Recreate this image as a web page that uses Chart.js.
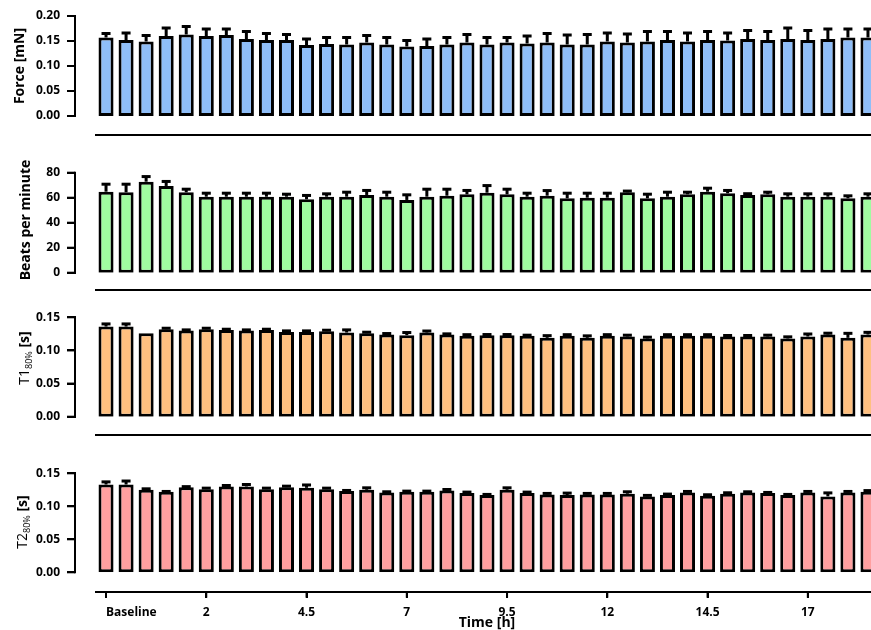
<!DOCTYPE html>
<html><head><meta charset="utf-8">
<script src="https://cdn.jsdelivr.net/npm/chart.js@4.4.1/dist/chart.umd.min.js"></script>
<style>
html,body{margin:0;padding:0;background:#fff;overflow:hidden;width:871px;height:630px;}
#wrap{position:relative;width:871px;height:630px;overflow:hidden;}
canvas{position:absolute;left:0;top:-24px;}
.yt{position:absolute;transform:translate(-50%,-50%) rotate(-90deg);white-space:nowrap;font-family:'Open Sans',sans-serif;font-size:14px;font-weight:700;color:#000;line-height:1;}
.yt .n{font-weight:400;}
.yt sub{font-size:9px;font-weight:400;vertical-align:baseline;position:relative;top:3px;}
#xt{position:absolute;transform:translate(-50%,-50%);font-family:'Open Sans',sans-serif;font-size:14px;font-weight:700;color:#000;white-space:nowrap;line-height:1;}
.ax{position:absolute;background:#000;}
</style></head><body>
<div id="wrap">
<canvas id="c0" width="882" height="654"></canvas>
<canvas id="c1" width="882" height="654"></canvas>
<canvas id="c2" width="882" height="654"></canvas>
<canvas id="c3" width="882" height="654"></canvas>
<div class="yt" style="left:19px;top:66px">Force [mN]</div>
<div class="yt" style="left:25px;top:220px">Beats per minute</div>
<div class="yt" style="left:24px;top:358px"><span class="n">T1<sub>80%</sub></span> [s]</div>
<div class="yt" style="left:22px;top:522px"><span class="n">T2<sub>80%</sub></span> [s]</div>
<div id="xt" style="left:487px;top:622px">Time [h]</div>
</div>
<script>
const categories = ['Baseline','0','0.5','1','1.5','2','2.5','3','3.5','4','4.5','5','5.5','6','6.5','7','7.5','8','8.5','9','9.5','10','10.5','11','11.5','12','12.5','13','13.5','14','14.5','15','15.5','16','16.5','17','17.5','18','18.5'];
const xTickLabels = ['Baseline','2','4.5','7','9.5','12','14.5','17'];

const forceMean = [0.157,0.152,0.149,0.160,0.163,0.160,0.162,0.154,0.152,0.152,0.142,0.144,0.143,0.147,0.143,0.139,0.140,0.143,0.147,0.143,0.147,0.145,0.147,0.143,0.143,0.149,0.147,0.149,0.152,0.149,0.152,0.151,0.154,0.152,0.154,0.152,0.154,0.157,0.157];
const forceErr = [0.008,0.014,0.012,0.016,0.016,0.014,0.012,0.015,0.013,0.011,0.012,0.013,0.014,0.014,0.014,0.012,0.014,0.014,0.016,0.014,0.010,0.015,0.018,0.019,0.020,0.017,0.017,0.020,0.017,0.017,0.017,0.015,0.017,0.017,0.022,0.019,0.020,0.017,0.017];

const bpmMean = [64.8,64.3,72.8,69.4,64.3,60.8,60.8,60.8,60.8,60.8,58.7,60.8,60.8,62.2,60.8,58.2,60.8,61.6,62.7,64.0,62.7,60.8,61.6,59.5,60.0,60.0,64.3,59.5,60.8,62.7,64.8,63.5,62.2,62.7,60.8,60.8,60.8,59.5,60.8];
const bpmErr = [6.0,6.5,4.1,3.6,2.5,2.8,2.8,2.8,2.8,2.0,3.1,2.3,3.6,3.6,3.6,4.1,6.0,5.2,3.1,5.7,4.1,2.8,4.1,4.1,3.6,3.6,1.0,3.3,3.6,1.7,2.8,2.3,1.0,1.7,2.3,2.3,2.3,2.0,2.3];

const t1Mean = [0.136,0.136,0.126,0.132,0.130,0.132,0.131,0.130,0.131,0.128,0.128,0.129,0.127,0.126,0.124,0.123,0.127,0.124,0.122,0.123,0.123,0.122,0.119,0.122,0.119,0.122,0.121,0.118,0.122,0.122,0.122,0.121,0.121,0.121,0.118,0.121,0.124,0.119,0.124];
const t1Err = [0.004,0.004,0,0.0015,0.001,0.0015,0.001,0.001,0.001,0.0015,0.0015,0.0015,0.004,0.0015,0.0015,0.004,0.0023,0.001,0.0018,0.001,0.001,0.001,0.0033,0.0018,0.003,0.0018,0.002,0.002,0.0018,0.0018,0.0018,0.0015,0.0015,0.002,0.0025,0.0038,0.002,0.0068,0.0033];

const t2Mean = [0.133,0.133,0.125,0.122,0.129,0.126,0.130,0.130,0.126,0.129,0.128,0.126,0.123,0.125,0.121,0.122,0.122,0.124,0.120,0.117,0.125,0.120,0.118,0.117,0.118,0.118,0.119,0.115,0.117,0.121,0.116,0.119,0.121,0.120,0.117,0.121,0.115,0.121,0.122];
const t2Err = [0.004,0.0053,0.0015,0.0005,0.0008,0.0015,0.0015,0.003,0.0015,0.0015,0.0043,0.0015,0.001,0.003,0.001,0.001,0.001,0.0015,0.0015,0.001,0.003,0.0015,0.0015,0.003,0.0015,0.0015,0.003,0.0015,0.0015,0.0015,0.0015,0.0015,0.001,0.001,0.001,0.0015,0.0053,0.0015,0.0018];

const forceTicks = ['0.00','0.05','0.10','0.15','0.20'];
const bpmTicks = ['0','20','40','60','80'];
const tTicks = ['0.00','0.05','0.10','0.15'];

const FONT = {family:"'Open Sans', sans-serif", size:12, weight:'bold'};
const SHIFT = 24; // canvases sit 24px above the page top

// y axis line + tick marks and x tick marks, positioned from the chart's own scales
function axisGeometry(chart, xTicks, xAt){
  const ys = chart.scales.y, xs = chart.scales.x;
  const ax = ys.right - 1;
  const segs = [];
  segs.push({x1:ax, y1:ys.getPixelForValue(ys.max) - 1, x2:ax, y2:ys.getPixelForValue(ys.min) + 1});
  ys.ticks.forEach(t => { const py = ys.getPixelForValue(t.value); segs.push({x1:ax - 8, y1:py, x2:ax, y2:py}); });
  if (xTicks) {
    const base = ys.getPixelForValue(xAt);
    categories.forEach((c, i) => {
      if (!xTickLabels.includes(c)) return;
      const px = xs.getPixelForValue(i);
      segs.push({x1:px, y1:base, x2:px, y2:base + 6});
    });
  }
  return segs;
}

const errorBars = {
  id:'errorBars',
  afterDatasetsDraw(chart, args, opts){
    const ctx = chart.ctx, ds = chart.data.datasets[0], meta = chart.getDatasetMeta(0), ys = chart.scales.y;
    ctx.save();
    ctx.strokeStyle = '#000'; ctx.lineWidth = 3; ctx.lineCap = 'butt';
    meta.data.forEach((bar, i) => {
      const e = ds.errors[i];
      if (!(e > 0)) return;
      const v = ds.data[i];
      const y0 = ys.getPixelForValue(v), y1 = ys.getPixelForValue(v + e);
      ctx.beginPath(); ctx.moveTo(bar.x, y0); ctx.lineTo(bar.x, y1); ctx.stroke();
      ctx.beginPath(); ctx.moveTo(bar.x - 4.5, y1); ctx.lineTo(bar.x + 4.5, y1); ctx.stroke();
    });
    ctx.restore();
    // axis marks on the canvas
    ctx.save();
    ctx.strokeStyle = '#000'; ctx.lineWidth = 2;
    axisGeometry(chart, opts.xTicks, opts.xAt).forEach(s => {
      ctx.beginPath(); ctx.moveTo(s.x1, s.y1); ctx.lineTo(s.x2, s.y2); ctx.stroke();
    });
    ctx.restore();
  }
};

const wrap = document.getElementById('wrap');
function addAxisDivs(chart, xTicks, xAt){
  axisGeometry(chart, xTicks, xAt).forEach(s => {
    const d = document.createElement('div');
    d.className = 'ax';
    if (s.x1 === s.x2) {
      d.style.left = (s.x1 - 1) + 'px'; d.style.width = '2px';
      d.style.top = (Math.min(s.y1, s.y2) - SHIFT) + 'px'; d.style.height = Math.abs(s.y2 - s.y1) + 'px';
    } else {
      d.style.left = Math.min(s.x1, s.x2) + 'px'; d.style.width = Math.abs(s.x2 - s.x1) + 'px';
      d.style.top = (s.y1 - 1 - SHIFT) + 'px'; d.style.height = '2px';
    }
    wrap.appendChild(d);
  });
}

function panel(id, cfg){
  const chart = new Chart(document.getElementById(id), {
    type:'bar',
    data:{labels:categories, datasets:[{data:cfg.mean, errors:cfg.err, backgroundColor:cfg.color, borderColor:'#000', borderWidth:3, borderSkipped:false, barPercentage:0.75, categoryPercentage:1, yAxisID:'y'}]},
    options:{
      responsive:false, animation:false, events:[],
      layout:{padding:{left:0, right:4, top:cfg.top + SHIFT, bottom:630 - cfg.bottom}},
      plugins:{legend:{display:false}, tooltip:{enabled:false}, errorBars:{xTicks:cfg.showX, xAt:cfg.xAt}},
      scales:{
        x:{type:'category', offset:true, position:{y:cfg.xAt},
           border:{display:true, color:'#000', width:2},
           grid:{display:false},
           ticks:{display:cfg.showX, autoSkip:false, maxRotation:0, align:'inner', padding:6, color:'#000', font:FONT,
                  callback:(v,i) => xTickLabels.includes(categories[i]) ? categories[i] : ''}},
        y:{type:'linear', position:'left', weight:1, min:0, max:cfg.max,
           ticks:{stepSize:cfg.step, autoSkip:false, padding:8, color:'#000', font:FONT, callback:(v,i) => cfg.tickLabels[i]},
           grid:{display:false}, border:{display:false},
           afterFit(s){ s.width = 76; }},
        gap:{type:'linear', axis:'y', position:'left', weight:0,
             ticks:{display:false}, grid:{display:false}, border:{display:false},
             afterFit(s){ s.width = 20; }}
      }
    },
    plugins:[errorBars]
  });
  addAxisDivs(chart, cfg.showX, cfg.xAt);
  return chart;
}

panel('c0', {mean:forceMean, err:forceErr, color:'rgb(143,190,248)', top:16, bottom:116, max:0.20, step:0.05, xAt:-0.038, showX:false, tickLabels:forceTicks});
panel('c1', {mean:bpmMean, err:bpmErr, color:'rgb(160,252,160)', top:172.7, bottom:272.7, max:80, step:20, xAt:-13.8, showX:false, tickLabels:bpmTicks});
panel('c2', {mean:t1Mean, err:t1Err, color:'rgb(255,192,128)', top:317.3, bottom:416.7, max:0.15, step:0.05, xAt:-0.0276, showX:false, tickLabels:tTicks});
panel('c3', {mean:t2Mean, err:t2Err, color:'rgb(255,160,160)', top:473.3, bottom:572.3, max:0.15, step:0.05, xAt:-0.0294, showX:true, tickLabels:tTicks});
</script>
</body></html>
